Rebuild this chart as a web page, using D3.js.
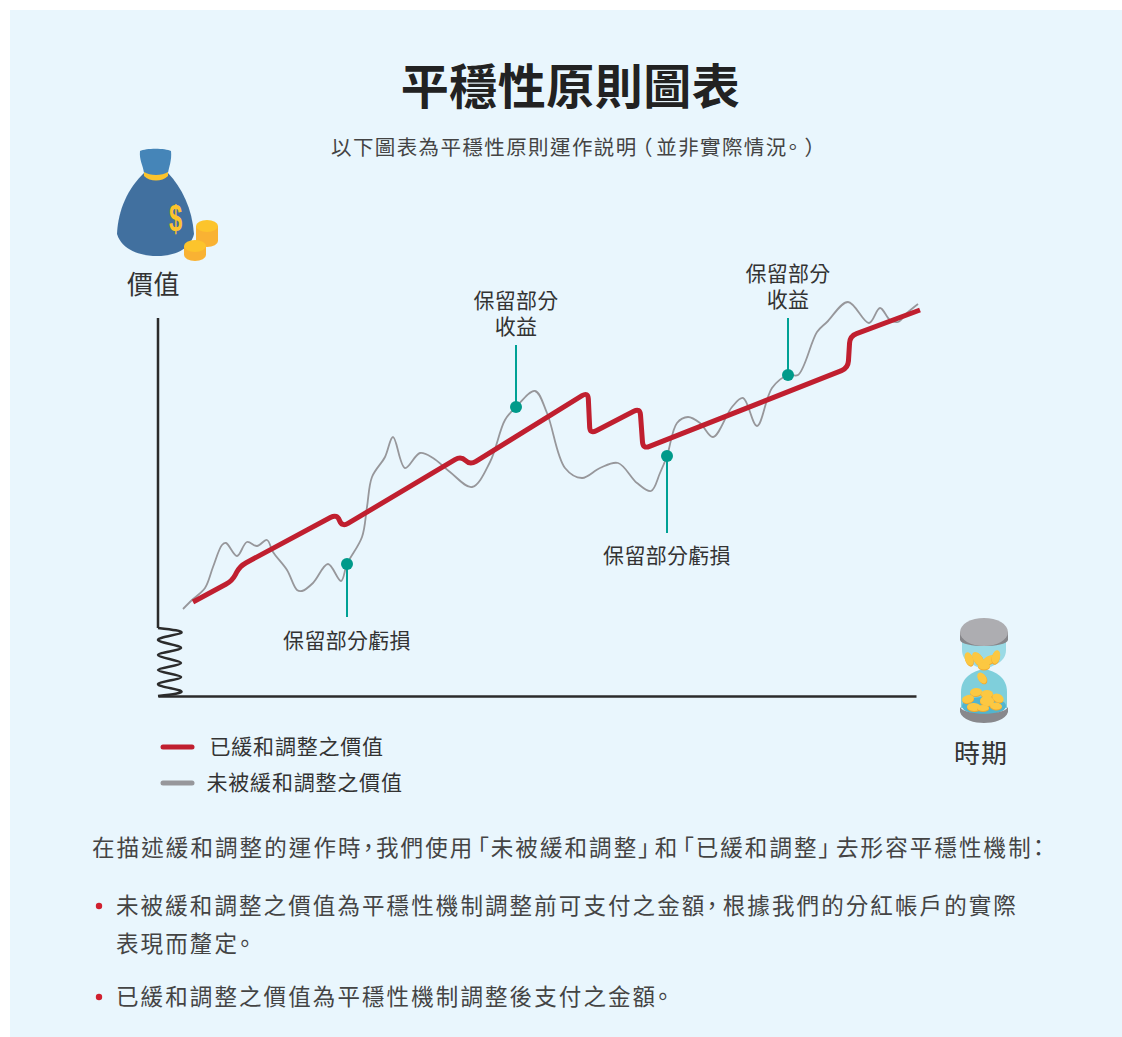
<!DOCTYPE html>
<html>
<head>
<meta charset="utf-8">
<script src="https://cdn.jsdelivr.net/npm/d3@7"></script>
<style>
html, body { margin: 0; background: #fff; }
svg { display: block; }
text { font-family: "Noto Sans CJK TC", "Noto Sans", sans-serif; fill: #333; }
</style>
</head>
<body>
<svg id="chart" width="1122" height="1037"></svg>
<script>
// chart has no ticks, so the values are just in its own units
var rawTime = [25,34,47,55,64,68,79,89,99,109,115,129,139,144,155,170,183,189,204,209,214,227,235,247,262,275,292,314,332,347,358,377,389,407,424,442,460,479,493,502,509,519,530,542,555,574,585,599,614,630,640,659,669,690,711,722,732,740,749,760]
var rawValue = [87,96,108,129,151,153,140,154,150,156,144,126,106,105,113,132,115,132,159,189,219,239,259,228,243,238,224,209,234,276,289,305,283,228,218,228,233,213,205,223,240,273,279,273,259,289,298,270,308,321,321,364,374,394,373,388,376,374,383,392]

// smoothed line is straight runs with small rounded corners, only the corners are kept
var smoothTime = [35,74,82,179,184,303,312,430,432,482,485,690,692,762]
var smoothValue = [94,115,130,182,169,240,231,304,262,288,247,328,360,386]

var springTime = [0,23,0,23,0,23,0,23,0,23,0]
var springValue = [68,63,56,48,41,33,26,19,12,5,0]

var calloutTime = [189,358,509,630]
var calloutValue = [132,289,240,321]
var calloutTip = [79,351,163,378]
var calloutLabels = [["保留部分虧損"],["保留部分","收益"],["保留部分虧損"],["保留部分","收益"]]
var calloutLabelY = [641,301,556,274]

var legendLabels = ["已緩和調整之價值","未被緩和調整之價值"]
var legendColors = ["#c01f2f","#97979b"]

var svg = d3.select("#chart")

svg.append("rect").attr("x",10).attr("y",10).attr("width",1112).attr("height",1027).attr("fill","#e9f6fd")

var x = d3.scaleLinear().domain([0,758]).range([158,916])
var y = d3.scaleLinear().domain([0,378]).range([696,318])

function label(str, px, py, size, anchor, spacing, weight, color) {
    return svg.append("text")
        .attr("x",px).attr("y",py)
        .attr("font-size",size)
        .attr("text-anchor",anchor || "middle")
        .attr("letter-spacing",spacing || 0)
        .attr("font-weight",weight || 400)
        .style("fill",color || "#333")
        .style("font-feature-settings",'"palt"')
        .html(str)
}

function gap(dx, str) {
    return '<tspan dx="'+dx+'">'+str+'</tspan>'
}

label("平穩性原則圖表",570.5,104,48,"middle",0.5,700,"#222")
label("以下圖表為平穩性原則運作説明"+gap(4,"（")+gap(3,"並非實際情況。")+gap(6,"）"),331,155,20.5,"start",1.4,400,"#444")

// axes
svg.append("g").attr("transform","translate(0,696)")
    .call(d3.axisBottom(x).tickValues([]).tickSizeOuter(0))
    .select(".domain").attr("stroke","#2b2b2b").attr("stroke-width",2.5)

var axisLine = d3.line().x(function(d){return x(d[0])}).y(function(d){return y(d[1])})
svg.append("path")
    .attr("d",axisLine([[0,378],[0,68]]))
    .attr("fill","none").attr("stroke","#2b2b2b").attr("stroke-width",2.5)

svg.append("path")
    .attr("d",axisLine.curve(d3.curveNatural)(d3.zip(springTime,springValue)))
    .attr("fill","none").attr("stroke","#2b2b2b").attr("stroke-width",2.5)

// series
var seriesLine = d3.line()
    .x(function(d){return x(d[0])})
    .y(function(d){return y(d[1])})
    .curve(d3.curveCatmullRom.alpha(0.5))

svg.append("path")
    .attr("d",seriesLine(d3.zip(rawTime,rawValue)))
    .attr("fill","none").attr("stroke","#97979b").attr("stroke-width",1.8)

// callouts go between the gray line and the red one
calloutTime.forEach(function(t,i){
    svg.append("line")
        .attr("x1",x(t)).attr("x2",x(t))
        .attr("y1",y(calloutValue[i])).attr("y2",y(calloutTip[i]))
        .attr("stroke","#00a195").attr("stroke-width",2)
    svg.append("circle")
        .attr("cx",x(t)).attr("cy",y(calloutValue[i])).attr("r",6)
        .attr("fill","#009a8a")
    var txt = label("",x(t),calloutLabelY[i]+6.5,21,"middle",0.3)
    calloutLabels[i].forEach(function(s,j){
        txt.append("tspan").attr("x",x(t)).attr("dy",j ? 26.5 : 0).text(s)
    })
})

// straight lines with a rounded corner at each vertex
function roundedCurve(context) {
    var pts = []
    return {
        lineStart: function() { pts = [] },
        lineEnd: function() {
            var r = 7
            context.moveTo(pts[0][0],pts[0][1])
            for (var i = 1; i < pts.length-1; i++) {
                var a = pts[i-1], b = pts[i], c = pts[i+1]
                var d1 = Math.hypot(b[0]-a[0],b[1]-a[1]), d2 = Math.hypot(c[0]-b[0],c[1]-b[1])
                var r1 = Math.min(r,d1/2), r2 = Math.min(r,d2/2)
                context.lineTo(b[0]-(b[0]-a[0])*r1/d1,b[1]-(b[1]-a[1])*r1/d1)
                context.quadraticCurveTo(b[0],b[1],b[0]+(c[0]-b[0])*r2/d2,b[1]+(c[1]-b[1])*r2/d2)
            }
            var last = pts[pts.length-1]
            context.lineTo(last[0],last[1])
        },
        areaStart: function() {},
        areaEnd: function() {},
        point: function(px,py) { pts.push([px,py]) }
    }
}

svg.append("path")
    .attr("d",d3.line().x(function(d){return x(d[0])}).y(function(d){return y(d[1])}).curve(roundedCurve)(d3.zip(smoothTime,smoothValue)))
    .attr("fill","none").attr("stroke","#c01f2f").attr("stroke-width",5)

// legend
var legendY = [747,783]
var legendTextX = [209.5,206.5]
legendLabels.forEach(function(s,i){
    svg.append("line")
        .attr("x1",163).attr("x2",192)
        .attr("y1",legendY[i]).attr("y2",legendY[i])
        .attr("stroke",legendColors[i]).attr("stroke-width",5).attr("stroke-linecap","round")
    label(s,legendTextX[i],legendY[i]+7,21,"start",0.8)
})

// axis names
label("價值",153.5,294,26,"middle",0.5)
label("時期",981,763,26,"middle",1)

// money bag
var bag = svg.append("g")
bag.append("path").attr("fill","#41709f")
    .attr("d","M144,173 C128,188 118,210 117,234 C122,250 140,256 157,256 C174,256 190,250 194,234 C192,208 182,188 168,173 Z")
bag.append("path").attr("fill","#4585b8")
    .attr("d","M140,151 C146,148 165,148 171,151 C172,160 169,167 168,173 C160,178 150,178 144,173 C143,165 139,160 140,151 Z")
bag.append("path").attr("fill","#fcc42c")
    .attr("d","M144,172 C150,176 162,176 168,172 L168,176 C162,182 150,182 144,176 Z")
svg.append("text").attr("transform","translate(175.5,231) scale(0.72,1.12)").attr("text-anchor","middle")
    .attr("font-size",33).attr("font-weight",700).style("fill","#fcc42c").style("font-family","'Liberation Sans'").text("$")
function coinStack(cx, top, bottom, rx, ry) {
    svg.append("path").attr("fill","#f9b233")
        .attr("d","M"+(cx-rx)+","+top+" L"+(cx-rx)+","+bottom+" A"+rx+","+ry+" 0 0 0 "+(cx+rx)+","+bottom+" L"+(cx+rx)+","+top+" Z")
    svg.append("ellipse").attr("cx",cx).attr("cy",top).attr("rx",rx).attr("ry",ry).attr("fill","#fcc42c")
}
coinStack(207,226,241,11,6)
coinStack(195,246,255,11,6)

// hourglass
var glass = svg.append("g")
glass.append("path").attr("fill","#9adae5")
    .attr("d","M962,640 L962,650 C962,664 978,666 984,670 C990,666 1006,664 1006,650 L1006,640 Z")
glass.append("path").attr("fill","#7fcfdb")
    .attr("d","M984,669 C972,671 961,678 961,692 L961,708 L1007,708 L1007,692 C1007,678 996,671 984,669 Z")
glass.append("ellipse").attr("cx",984).attr("cy",706).attr("rx",22).attr("ry",9).attr("fill","#52b5cf")
glass.append("path").attr("fill","#88888c")
    .attr("d","M960,707 L960,712 C962,720 975,723 984,723 C993,723 1006,720 1008,712 L1008,707 C1004,716 964,716 960,707 Z")
glass.append("path").attr("fill","#86868a")
    .attr("d","M960,632 L960,640 C962,648 1006,648 1008,640 L1008,632 Z")
glass.append("ellipse").attr("cx",984).attr("cy",632).attr("rx",24).attr("ry",14).attr("fill","#adadb1")
var hourglassCoins = [[969,659,4,7,-20],[978,659,4.5,8,-35],[989,660,7.5,4,-30],[996,657,4,7,15],[984,666,6,3.5,0],[982,678,4,6,-35],[976,692,6,4,-5],[968,699,6,4,-15],[987,694,6,4,0],[998,698,6,4,25],[974,707,7,4,5],[987,701,7,5,5],[996,706,6,3.5,5],[983,708,6,3,0]]
hourglassCoins.forEach(function(c){
    glass.append("ellipse").attr("cx",c[0]).attr("cy",c[1]+1).attr("rx",c[2]).attr("ry",c[3])
        .attr("transform","rotate("+c[4]+" "+c[0]+" "+c[1]+")").attr("fill","#f0a92e")
    glass.append("ellipse").attr("cx",c[0]).attr("cy",c[1]).attr("rx",c[2]).attr("ry",c[3])
        .attr("transform","rotate("+c[4]+" "+c[0]+" "+c[1]+")").attr("fill","#fcc842")
})

// text below the chart
label("在描述緩和調整的運作時，我們使用"+gap(3,"「未被緩和調整")+gap(0,"」")+gap(3,"和")+gap(3,"「已緩和調整")+gap(0,"」")+gap(4,"去形容平穩性機制：" ),92,856,22.5,"start",2.1,400,"#444")
label("未被緩和調整之價值為平穩性機制調整前可支付之金額，"+gap(3,"根據我們的分紅帳戶的實際"),116,914,22.5,"start",2.1,400,"#444")
label("表現而釐定。",116,952,22.5,"start",2.1,400,"#444")
label("已緩和調整之價值為平穩性機制調整後支付之金額。",116,1005,22.5,"start",2.1,400,"#444")
svg.selectAll(".bullet").data([906,997]).join("circle")
    .attr("class","bullet").attr("cx",99).attr("cy",function(d){return d}).attr("r",3.2).attr("fill","#d0202f")
</script>
</body>
</html>
